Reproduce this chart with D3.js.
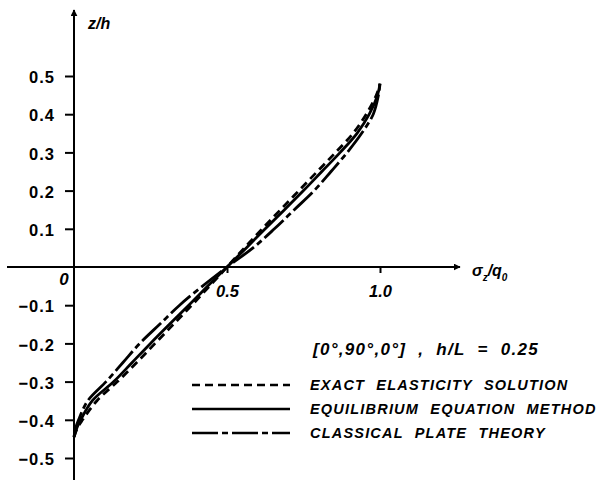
<!DOCTYPE html>
<html>
<head>
<meta charset="utf-8">
<script src="https://cdn.jsdelivr.net/npm/d3@7"></script>
<style>
  body { margin: 0; background: #fff; }
  text { font-family: "Liberation Sans", Arial, sans-serif; font-weight: bold; fill: #000; }
</style>
</head>
<body>
<div id="chart"></div>
<script>
// z/h positions shared by the three curves
const zExact = [-0.445, -0.42, -0.40, -0.35, -0.30, -0.25, -0.20, -0.15, -0.10, -0.05, 0, 0.05, 0.10, 0.15, 0.20, 0.25, 0.30, 0.35, 0.40, 0.45, 0.48];
const sExact = [0.0, 0.012, 0.028, 0.075, 0.142, 0.205, 0.265, 0.325, 0.385, 0.443, 0.50, 0.557, 0.615, 0.675, 0.735, 0.795, 0.855, 0.912, 0.955, 0.988, 1.0];

const zEquil = [-0.445, -0.42, -0.40, -0.35, -0.30, -0.25, -0.20, -0.15, -0.10, -0.05, 0, 0.05, 0.10, 0.15, 0.20, 0.25, 0.30, 0.35, 0.40, 0.45, 0.48];
const sEquil = [0.0, 0.01, 0.022, 0.06, 0.13, 0.19, 0.25, 0.312, 0.375, 0.437, 0.50, 0.563, 0.625, 0.688, 0.75, 0.81, 0.87, 0.925, 0.965, 0.992, 1.0];

const zClassic = [-0.445, -0.42, -0.40, -0.35, -0.30, -0.25, -0.20, -0.15, -0.10, -0.05, 0, 0.05, 0.10, 0.15, 0.20, 0.25, 0.30, 0.35, 0.40, 0.45, 0.48];
const sClassic = [0.0, 0.006, 0.015, 0.045, 0.105, 0.16, 0.215, 0.28, 0.345, 0.42, 0.50, 0.585, 0.655, 0.72, 0.785, 0.84, 0.893, 0.94, 0.978, 0.995, 1.0];

const yTicks = [-0.5, -0.4, -0.3, -0.2, -0.1, 0.1, 0.2, 0.3, 0.4, 0.5];
const xTicks = [0.5, 1.0];
const xTickLabels = ['0.5', '1.0'];

const legendLabels = ['EXACT ELASTICITY SOLUTION', 'EQUILIBRIUM EQUATION METHOD', 'CLASSICAL PLATE THEORY'];
const legendDash = ['8,5', null, '26,4,6,4'];

const width = 613, height = 480;

const svg = d3.select('#chart').append('svg')
  .attr('width', width)
  .attr('height', height);

const x = d3.scaleLinear().domain([0, 1]).range([74, 380]);
const y = d3.scaleLinear().domain([-0.5, 0.5]).range([458, 76]);

// axes lines with arrows
svg.append('defs').append('marker')
  .attr('id', 'arrow')
  .attr('viewBox', '0 0 10 10')
  .attr('refX', 9).attr('refY', 5)
  .attr('markerWidth', 7).attr('markerHeight', 7)
  .attr('markerUnits', 'userSpaceOnUse')
  .attr('orient', 'auto')
  .append('path')
  .attr('d', 'M0,0 L10,5 L0,10 z')
  .attr('fill', '#000');

svg.append('line')
  .attr('x1', x(0)).attr('y1', height)
  .attr('x2', x(0)).attr('y2', 10)
  .attr('stroke', '#000').attr('stroke-width', 2)
  .attr('marker-end', 'url(#arrow)');

svg.append('line')
  .attr('x1', 7).attr('y1', y(0))
  .attr('x2', 460).attr('y2', y(0))
  .attr('stroke', '#000').attr('stroke-width', 2)
  .attr('marker-end', 'url(#arrow)');

// y ticks
const yAxis = svg.append('g')
  .attr('transform', `translate(${x(0)},0)`)
  .call(d3.axisLeft(y).tickValues(yTicks).tickSize(9).tickPadding(10)
    .tickFormat(d => d3.format('.1f')(d)));
yAxis.select('.domain').remove();
yAxis.selectAll('.tick line').attr('stroke', '#000').attr('stroke-width', 2);
yAxis.selectAll('.tick text')
  .attr('font-size', 16.5)
  .attr('font-family', '"Liberation Sans", Arial, sans-serif')
  .attr('font-weight', 'bold')
  .attr('letter-spacing', 1)
  .attr('dy', '0.4em');

// x ticks
const xAxis = svg.append('g')
  .attr('transform', `translate(0,${y(0)})`)
  .call(d3.axisBottom(x).tickValues(xTicks).tickSize(6).tickPadding(12)
    .tickFormat((d, i) => xTickLabels[i]));
xAxis.select('.domain').remove();
xAxis.selectAll('.tick line').attr('stroke', '#000').attr('stroke-width', 2);
xAxis.selectAll('.tick text')
  .attr('font-size', 16.5)
  .attr('font-family', '"Liberation Sans", Arial, sans-serif')
  .attr('font-weight', 'bold')
  .attr('font-style', 'italic');

// origin label
svg.append('text')
  .attr('x', 64).attr('y', 285)
  .attr('font-size', 17).attr('font-style', 'italic')
  .attr('text-anchor', 'middle')
  .text('0');

// axis titles
svg.append('text')
  .attr('x', 88).attr('y', 29)
  .attr('font-size', 16).attr('font-style', 'italic')
  .text('z/h');

const xt = svg.append('text')
  .attr('x', 472).attr('y', 276)
  .attr('font-size', 16).attr('font-style', 'italic');
xt.append('tspan').text('σ');
xt.append('tspan').attr('font-size', 10).attr('dy', 5).text('z');
xt.append('tspan').attr('dy', -5).text('/q');
xt.append('tspan').attr('font-size', 10).attr('dy', 5).text('0');

// curves
const line = d3.line()
  .x(d => x(d[0]))
  .y(d => y(d[1]))
  .curve(d3.curveCatmullRom);

const series = [
  { s: sEquil, z: zEquil, dash: null },
  { s: sExact, z: zExact, dash: '8,5' },
  { s: sClassic, z: zClassic, dash: '26,4,6,4' }
];

series.forEach(ser => {
  svg.append('path')
    .datum(ser.s.map((v, i) => [v, ser.z[i]]))
    .attr('fill', 'none')
    .attr('stroke', '#000')
    .attr('stroke-width', 2.8)
    .attr('stroke-dasharray', ser.dash)
    .attr('d', line);
});

// annotation
svg.append('text')
  .attr('x', 313).attr('y', 355)
  .attr('font-size', 17).attr('font-style', 'italic')
  .attr('letter-spacing', 1.3)
  .attr('word-spacing', 6)
  .text('[0°,90°,0°] , h/L = 0.25');

// legend
const legend = svg.append('g');
legendLabels.forEach((lab, i) => {
  const ly = 385 + i * 24;
  legend.append('line')
    .attr('x1', 192).attr('x2', 290)
    .attr('y1', ly).attr('y2', ly)
    .attr('stroke', '#000').attr('stroke-width', 2.6)
    .attr('stroke-dasharray', legendDash[i]);
  legend.append('text')
    .attr('x', 310).attr('y', ly + 5)
    .attr('font-size', 14.5)
    .attr('font-style', 'italic')
    .attr('letter-spacing', 1.2)
    .attr('word-spacing', 6)
    .text(lab);
});
</script>
</body>
</html>
